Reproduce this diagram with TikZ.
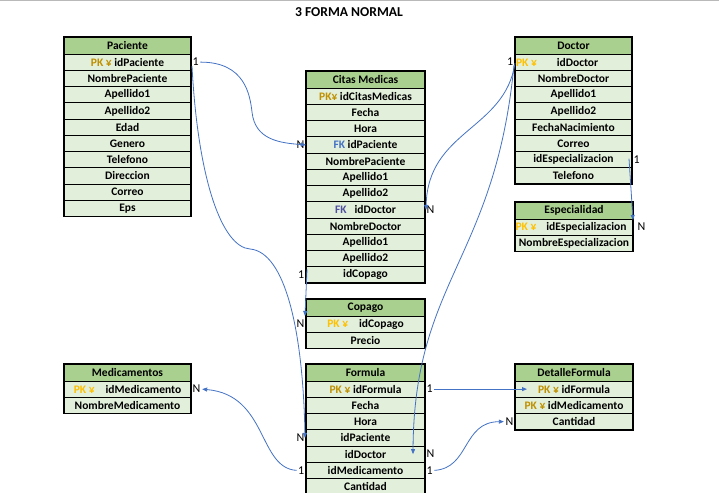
\documentclass[tikz,border=0pt]{standalone}
\usepackage{fontspec}
\setmainfont{Carlito}
\usetikzlibrary{arrows.meta,calc}
\definecolor{hdr}{HTML}{A9D08E}
\definecolor{rowc}{HTML}{E2EFDA}
\definecolor{pkd}{HTML}{BF9000}
\definecolor{pkb}{HTML}{FFC000}
\definecolor{fkb}{HTML}{4472C4}
\definecolor{fkp}{HTML}{5050A0}
\definecolor{lnk}{HTML}{4472C4}
\newcommand{\pka}[1]{\textcolor{pkd}{#1}}
\newcommand{\pkb}[1]{\textcolor{pkb}{#1}}
\newcommand{\fka}[1]{\textcolor{fkb}{#1}}
\newcommand{\fkc}[1]{\textcolor{fkp}{#1}}
\tikzset{
  cellbase/.style={draw=black, line width=0.7bp, inner sep=0pt, outer sep=0pt,
    font=\fontsize{11.5bp}{13bp}\selectfont\bfseries, text=black},
  hcell/.style={cellbase, fill=hdr, minimum height=17bp},
  cell/.style={cellbase, fill=rowc, minimum height=16.25bp},
  outer/.style={draw=black, line width=1.8bp},
  card/.style={font=\fontsize{12bp}{13bp}\selectfont, inner sep=1.5bp, text=black},
  link/.style={draw=lnk, line width=0.8bp},
  arr/.style={link, -{Triangle[length=5bp,width=4bp]}}
}
\newcommand{\ertable}[6]{%
  \node[hcell,minimum width=#4bp,anchor=north west] (#1-0) at (#2,#3) {#5};
  \foreach \t [count=\i] in {#6}{%
    \node[cell,minimum width=#4bp,anchor=north west] (#1-\i) at (#2,#3+0.75+\i*16.25) {\t};
    \xdef\lastrow{\i}}%
  \draw[outer] (#1-0.north west) rectangle (#1-\lastrow.south east);
}
\begin{document}
\begin{tikzpicture}[x=1bp,y=-1bp]
\useasboundingbox (0,0) rectangle (719,493);
\fill[white] (0,0) rectangle (719,493);
\draw[gray!55, line width=1.5bp] (0,0.75) -- (719,0.75);
\node[font=\fontsize{13.6bp}{15bp}\selectfont\bfseries] (title) at (349,12) {3 FORMA NORMAL};

\ertable{pac}{64}{37}{127}{Paciente}{{\pka{PK ¥} idPaciente},NombrePaciente,Apellido1,Apellido2,Edad,Genero,Telefono,Direccion,Correo,Eps}
\ertable{cit}{306}{71}{119}{Citas Medicas}{{\pka{PK¥} idCitasMedicas},Fecha,Hora,{\fka{FK} idPaciente},NombrePaciente,Apellido1,Apellido2,{\fkc{FK}\hspace{8bp}idDoctor},NombreDoctor,Apellido1,Apellido2,idCopago}
\ertable{doc}{515}{37}{117}{Doctor}{{\makebox[115bp][l]{\pkb{PK ¥}\hspace{20bp}idDoctor}},NombreDoctor,Apellido1,Apellido2,FechaNacimiento,Correo,idEspecializacion,Telefono}
\ertable{esp}{515}{202}{118}{Especialidad}{{\makebox[117bp][l]{\pkb{PK ¥}\hspace{10bp}idEspecializacion}},NombreEspecializacion}
\ertable{cop}{306}{299}{119}{Copago}{{\pkb{PK ¥}\hspace{11bp}idCopago},Precio}
\ertable{med}{64}{364}{127}{Medicamentos}{{\pkb{PK ¥}\hspace{11bp}idMedicamento},NombreMedicamento}
\ertable{for}{306}{364}{119}{Formula}{{\pka{PK ¥} idFormula},Fecha,Hora,idPaciente,idDoctor,idMedicamento,Cantidad}
\ertable{det}{515}{364}{118}{DetalleFormula}{{\pka{PK ¥} idFormula},{\pka{PK ¥} idMedicamento},Cantidad}

% cardinality labels
\node[card,anchor=west] (c1) at (pac-1.east) {1};
\node[card,anchor=east] (c2) at (cit-4.west) {N};
\node[card,anchor=east] (c3) at (for-4.west) {N};
\node[card,anchor=east] (c4) at (cit-12.west) {1};
\node[card,anchor=east] (c5) at (cop-1.west) {N};
\node[card,anchor=east] (c6) at (doc-1.west) {1};
\node[card,anchor=west] (c7) at (cit-8.east) {N};
\node[card,anchor=west] (c8) at (for-5.east) {N};
\node[card,anchor=west] (c9) at (doc-7.east) {1};
\node[card,anchor=west] (c10) at ($(esp-1.east)+(3,0)$) {N};
\node[card,anchor=west] (c11) at (for-1.east) {1};
\node[card,anchor=west] (c12) at (for-6.east) {1};
\node[card,anchor=east] (c13) at (for-6.west) {1};
\node[card,anchor=west] (c14) at (med-1.east) {N};
\node[card,anchor=east] (c15) at (det-3.west) {N};

% connectors
\draw[arr] (c1.east) .. controls (245,62) and (250,95) .. (252,112)
  .. controls (255,140) and (280,143) .. (cit-4.west);
\draw[arr] ($(pac-1.east)+(1,4)$) .. controls (198,180) and (222,247) .. (250,249)
  .. controls (285,252) and (303,330) .. ($(for-4.west)+(-1,0)$);
\draw[arr] ($(c4.north east)+(1,0)$) -- ($(cop-1.north west)+(-1,0)$);
\draw[arr] ($(doc-1.west)+(0,1)$) .. controls (505,130) and (428,130) .. ($(cit-8.east)+(1,0)$);
\draw[arr] ($(doc-1.west)+(-1,3)$) .. controls (495,260) and (414,280) .. ($(for-5.east)+(-12,0)$);
\draw[arr] ($(doc-7.east)+(-3,-1)$) -- ($(esp-1.north east)+(0,1)$);
\draw[arr] (c11.east) -- ($(det-1.west)+(12,0)$);
\draw[arr] (c12.east) .. controls (470,468) and (462,422) .. (c15.west);
\draw[arr] (c13.west) .. controls (258,468) and (268,395) .. (c14.east);
\end{tikzpicture}
\end{document}
